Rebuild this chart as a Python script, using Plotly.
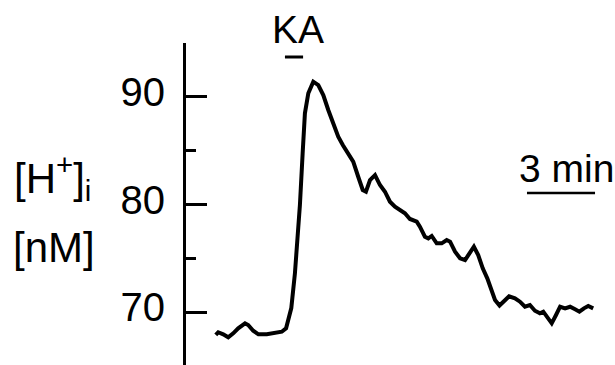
import plotly.graph_objects as go

# Time (min) and intracellular H+ concentration (nM)
time_min = [1.40, 1.51, 1.73, 1.95, 2.17, 2.39, 2.69, 2.83, 3.05, 3.28, 3.65, 4.01,
            4.31, 4.50, 4.60, 4.73, 4.89, 5.00, 5.11, 5.23, 5.33, 5.48, 5.70, 5.92,
            6.14, 6.36, 6.58, 6.80, 7.00, 7.24, 7.46, 7.68, 7.88, 8.02, 8.20, 8.42,
            8.64, 8.86, 9.08, 9.30, 9.52, 9.74, 9.96, 10.26, 10.40, 10.62, 10.77,
            10.92, 11.14, 11.36, 11.58, 11.73, 11.95, 12.17, 12.39, 12.61, 12.78,
            12.97, 13.17, 13.37, 13.56, 13.71, 13.91, 14.11, 14.33, 14.59, 14.81,
            15.03, 15.25, 15.47, 15.69, 15.84, 16.02, 16.21, 16.40, 16.58, 16.80,
            17.02, 17.24, 17.43, 17.63, 17.82, 18.04]
h_nM = [67.89, 68.14, 67.95, 67.67, 68.04, 68.51, 68.97, 68.81, 68.28, 67.95, 67.95, 68.04,
        68.19, 68.51, 69.28, 70.39, 73.61, 76.71, 79.96, 84.76, 88.47, 90.33, 91.41, 91.10,
        90.17, 88.78, 87.54, 86.30, 85.53, 84.76, 83.98, 82.58, 81.35, 81.19, 82.28, 82.74,
        81.81, 81.19, 80.26, 79.80, 79.49, 79.19, 78.66, 78.41, 77.94, 77.01, 76.86,
        77.08, 76.40, 76.40, 76.71, 76.55, 75.62, 75.01, 74.85, 75.47, 76.08,
        75.31, 74.08, 73.15, 72.16, 71.14, 70.62, 71.00, 71.48, 71.29, 70.98,
        70.51, 70.67, 70.14, 69.90, 70.05, 69.58, 68.97, 69.74, 70.51, 70.36,
        70.51, 70.27, 70.05, 70.36, 70.58, 70.36]

tick_vals = [70, 80, 90]
tick_text = ["70", "80", "90"]
minor_vals = [75, 85, 95]

ka_start, ka_end = 4.45, 5.25      # kainate application (min)
scale_start, scale_len = 15.12, 3  # time scale bar (min)

FONT = "Liberation Sans, Arial, sans-serif"

W, H = 615, 365
L, T = 186, 43
pw, ph = W - L, H - T
PX_PER_MIN = 22.684
x0 = (L - 184) / PX_PER_MIN
x1 = x0 + pw / PX_PER_MIN


def px_to_paper(x, y):
    return (x - L) / pw, 1 - (y - T) / ph


fig = go.Figure()
fig.add_trace(go.Scatter(x=time_min, y=h_nM, mode="lines",
                         line=dict(color="black", width=4),
                         hoverinfo="skip"))

# KA bar
fig.add_shape(type="line", x0=ka_start, x1=ka_end, y0=93.7, y1=93.7,
              line=dict(color="black", width=3))
# scale bar
fig.add_shape(type="line", x0=scale_start, x1=scale_start + scale_len, y0=81.07, y1=81.07,
              line=dict(color="black", width=2.5))

kx, ky = px_to_paper(298, 30)
fig.add_annotation(x=kx, y=ky, xref="paper", yref="paper", text="KA",
                   showarrow=False, font=dict(size=39, color="black", family=FONT),
                   xanchor="center", yanchor="middle")
sx, sy = px_to_paper(517, 168)
fig.add_annotation(x=sx, y=sy, xref="paper", yref="paper", text="3 min",
                   showarrow=False, font=dict(size=39, color="black", family=FONT),
                   xanchor="left", yanchor="middle")
hx, hy = px_to_paper(12, 177)
fig.add_annotation(x=hx, y=hy, xref="paper", yref="paper", text="[H<sup>+</sup>]<sub>i</sub>",
                   showarrow=False, font=dict(size=42, color="black", family=FONT),
                   xanchor="left", yanchor="middle")
nx, ny = px_to_paper(11, 247)
fig.add_annotation(x=nx, y=ny, xref="paper", yref="paper", text="[nM]",
                   showarrow=False, font=dict(size=42, color="black", family=FONT),
                   xanchor="left", yanchor="middle")

fig.update_layout(
    width=W, height=H,
    margin=dict(l=L, r=0, t=T, b=0, pad=0),
    plot_bgcolor="white", paper_bgcolor="white",
    showlegend=False,
    xaxis=dict(range=[x0, x1], visible=False, fixedrange=True),
    yaxis=dict(range=[65.1, 95], showline=True, linecolor="black", linewidth=3,
               showgrid=False, zeroline=False, fixedrange=True,
               tickmode="array", tickvals=tick_vals, ticktext=tick_text,
               ticks="inside", ticklen=21, tickwidth=3, tickcolor="black",
               tickfont=dict(size=40, color="black", family=FONT),
               ticklabelstandoff=10, ticklabelshift=-5,
               minor=dict(tickmode="array", tickvals=minor_vals, ticks="inside",
                          ticklen=10, tickwidth=3, tickcolor="black")),
)
fig.write_html("out.html", config={"displayModeBar": False},
               post_script="document.body.style.margin='0';document.body.style.overflow='hidden';")
